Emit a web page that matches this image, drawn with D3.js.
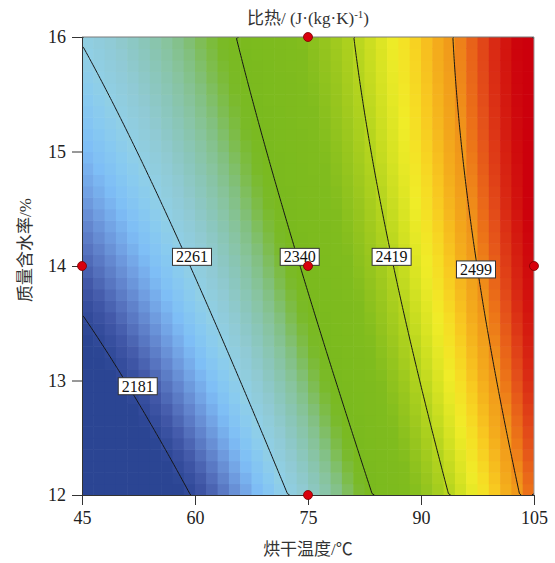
<!DOCTYPE html>
<html>
<head>
<meta charset="utf-8">
<title>比热响应面</title>
<style>
  body { margin: 0; background: #fff; }
  svg { display: block; }
  .cap { font-family: "Liberation Serif", "Noto Sans CJK SC", serif; font-size: 17px; fill: #333; }
  .lbl { font-family: "Liberation Serif", "Times New Roman", serif; font-size: 16px; fill: #111; }
</style>
</head>
<body>
<svg width="555" height="563"></svg>
<script src="https://cdn.jsdelivr.net/npm/d3@7"></script>
<script>
  // x: drying temperature, y: moisture content
  var tempDomain = [45, 105]
  var moistDomain = [12, 16]
  var tempTicks = [45, 60, 75, 90, 105]
  var moistTicks = [12, 13, 14, 15, 16]

  // quadratic response surface in coded units u=(T-75)/30, v=(M-14)/2
  // [b0, u, v, uv, u^2, v^2] - read off the contour positions
  var surfaceCoef = [2346.3, 180.2, 53.65, -24.75, 32, -13.75]

  var contourLevels = [2181, 2261, 2340, 2419, 2499]
  var labelTemp = [52.4, 59.6, 73.9, 86.1, 97.3]
  var labelMoist = [12.95, 14.08, 14.08, 14.08, 13.97]

  // design points (red dots)
  var pointTemp = [45, 75, 75, 75, 105]
  var pointMoist = [14, 16, 14, 12, 14]

  function surface(t, m) {
    var u = (t - 75) / 30, v = (m - 14) / 2, b = surfaceCoef
    return b[0] + b[1] * u + b[2] * v + b[3] * u * v + b[4] * u * u + b[5] * v * v
  }

  var svg = d3.select('svg'),
    margin = {top: 37, right: 21, bottom: 68, left: 82},
    width = +svg.attr('width') - margin.left - margin.right,
    height = +svg.attr('height') - margin.top - margin.bottom,
    g = svg.append('g').attr('transform', 'translate(' + margin.left + ',' + margin.top + ')')

  var x = d3.scaleLinear().domain(tempDomain).range([0, width])
  var y = d3.scaleLinear().domain(moistDomain).range([height, 0])

  var color = d3.scaleLinear()
    .domain([2175, 2185, 2195, 2205, 2215, 2225, 2237, 2250, 2260, 2275, 2290, 2300, 2310, 2320, 2330, 2340,
      2380, 2400, 2419, 2435, 2450, 2462, 2472, 2485, 2499, 2510, 2522, 2535, 2548, 2560])
    .range(['#2b4593', '#344c9c', '#4258a8', '#5470bc', '#6488d0', '#72a2e4', '#7ebef6', '#88caf0', '#90cfe6',
      '#90cad4', '#8ac6b8', '#88c4a0', '#82c080', '#7ebd50', '#7aba28', '#7aba1e',
      '#80bc1e', '#98c61e', '#b4d41e', '#d4e222', '#f0ec28', '#f6dc24', '#f8c820', '#f4ac1c', '#f0961a',
      '#ec7218', '#e4501a', '#da2c14', '#d2120e', '#cc000c'])
    .clamp(true)

  svg.append('defs').append('clipPath').attr('id', 'plot')
    .append('rect').attr('width', width).attr('height', height)

  // heat map cells
  var nCell = 40
  var cells = []
  for (var i = 0; i < nCell; i++) {
    for (var j = 0; j < nCell; j++) {
      var t0 = tempDomain[0] + (tempDomain[1] - tempDomain[0]) * i / nCell
      var t1 = tempDomain[0] + (tempDomain[1] - tempDomain[0]) * (i + 1) / nCell
      var m0 = moistDomain[0] + (moistDomain[1] - moistDomain[0]) * j / nCell
      var m1 = moistDomain[0] + (moistDomain[1] - moistDomain[0]) * (j + 1) / nCell
      cells.push({t0: t0, t1: t1, m0: m0, m1: m1, value: surface((t0 + t1) / 2, (m0 + m1) / 2)})
    }
  }

  var plot = g.append('g').attr('clip-path', 'url(#plot)')
  plot.selectAll('rect.cell')
    .data(cells)
    .enter().append('rect')
    .attr('class', 'cell')
    .attr('x', function (d) { return x(d.t0) })
    .attr('y', function (d) { return y(d.m1) })
    .attr('width', function (d) { return x(d.t1) - x(d.t0) + 0.6 })
    .attr('height', function (d) { return y(d.m0) - y(d.m1) + 0.6 })
    .attr('fill', function (d) { return color(d.value) })

  // contour lines on a finer grid
  var N = 160
  var gx = d3.scaleLinear().domain([0, N]).range(tempDomain)
  var gy = d3.scaleLinear().domain([0, N]).range([moistDomain[1], moistDomain[0]])
  var values = new Array(N * N)
  for (var r = 0; r < N; r++) {
    for (var c = 0; c < N; c++) {
      values[r * N + c] = surface(gx(c + 0.5), gy(r + 0.5))
    }
  }
  var contours = d3.contours().size([N, N]).thresholds(contourLevels)(values)

  function onEdge(a, b) {
    return (a[0] === 0 && b[0] === 0) || (a[0] === N && b[0] === N) ||
      (a[1] === 0 && b[1] === 0) || (a[1] === N && b[1] === N)
  }

  var segs = []
  contours.forEach(function (cn) {
    cn.coordinates.forEach(function (poly) {
      poly.forEach(function (ring) {
        var cur = [ring[0]]
        for (var k = 1; k < ring.length; k++) {
          if (onEdge(ring[k - 1], ring[k])) {
            if (cur.length > 1) segs.push(cur)
            cur = [ring[k]]
          } else {
            cur.push(ring[k])
          }
        }
        if (cur.length > 1) segs.push(cur)
      })
    })
  })

  var line = d3.line()
    .x(function (p) { return x(gx(p[0])) })
    .y(function (p) { return y(gy(p[1])) })

  plot.selectAll('path.iso')
    .data(segs)
    .enter().append('path')
    .attr('class', 'iso')
    .attr('d', line)
    .attr('fill', 'none')
    .attr('stroke', '#151515')
    .attr('stroke-width', 1)

  // frame
  g.append('line').attr('x1', 0).attr('x2', width).attr('y1', 0).attr('y2', 0)
    .attr('stroke', '#7a7a7a')
  g.append('line').attr('x1', width).attr('x2', width).attr('y1', 0).attr('y2', height)
    .attr('stroke', '#9a9a9a')

  function styleAxis(sel) {
    sel.selectAll('line, path').attr('stroke', '#333')
    sel.selectAll('text')
      .attr('font-family', '"Liberation Serif", "Times New Roman", serif')
      .attr('font-size', 18)
      .attr('fill', '#222')
  }

  g.append('g')
    .attr('transform', 'translate(0,' + height + ')')
    .call(d3.axisBottom(x).tickValues(tempTicks).tickFormat(d3.format('d'))
      .tickSize(10).tickSizeOuter(0).tickPadding(6))
    .call(styleAxis)

  g.append('g')
    .call(d3.axisLeft(y).tickValues(moistTicks).tickFormat(d3.format('d'))
      .tickSize(10).tickSizeOuter(0).tickPadding(6))
    .call(styleAxis)

  // contour labels
  var labels = g.selectAll('g.clabel')
    .data(contourLevels)
    .enter().append('g')
    .attr('class', 'clabel')
    .attr('transform', function (d, k) {
      return 'translate(' + x(labelTemp[k]) + ',' + y(labelMoist[k]) + ')'
    })
  labels.append('rect')
    .attr('x', -19.5).attr('y', -8.5).attr('width', 39).attr('height', 17)
    .attr('fill', '#fff').attr('stroke', '#333').attr('stroke-width', 1)
  labels.append('text')
    .attr('class', 'lbl')
    .attr('text-anchor', 'middle')
    .attr('dy', '0.35em')
    .text(function (d) { return d })

  // design points
  g.selectAll('circle.pt')
    .data(pointTemp)
    .enter().append('circle')
    .attr('class', 'pt')
    .attr('cx', function (d) { return x(d) })
    .attr('cy', function (d, k) { return y(pointMoist[k]) })
    .attr('r', 4.5)
    .attr('fill', '#d8000c')
    .attr('stroke', '#7a0000')
    .attr('stroke-width', 0.8)

  // titles
  var title = svg.append('text')
    .attr('class', 'cap')
    .attr('x', margin.left + x(75))
    .attr('y', 24)
    .attr('text-anchor', 'middle')
  title.append('tspan').text('比热/ (J·(kg·K)')
  title.append('tspan').attr('dy', -6).attr('font-size', 11).text('-1')
  title.append('tspan').attr('dy', 6).text(')')

  svg.append('text')
    .attr('class', 'cap')
    .attr('x', margin.left + x(75))
    .attr('y', 555)
    .attr('text-anchor', 'middle')
    .text('烘干温度/℃')

  svg.append('text')
    .attr('class', 'cap')
    .attr('transform', 'translate(31,250) rotate(-90)')
    .attr('text-anchor', 'middle')
    .text('质量含水率/%')
</script>
</body>
</html>
